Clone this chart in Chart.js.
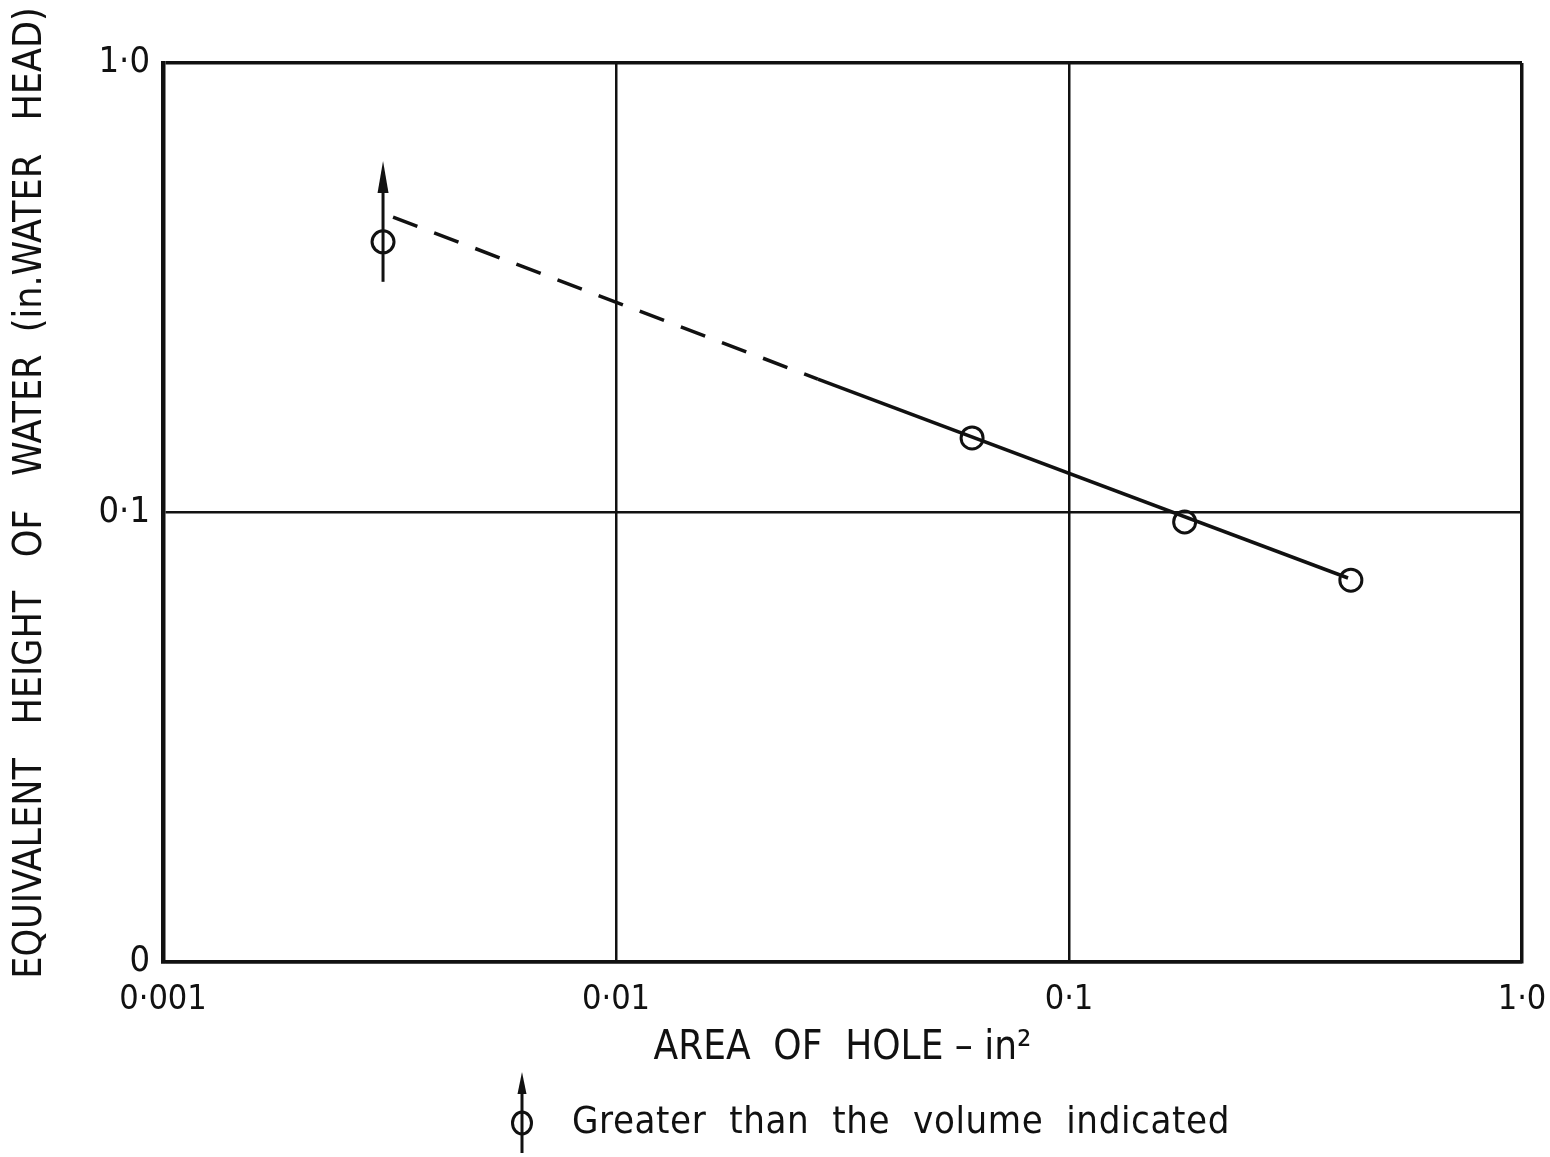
<!DOCTYPE html>
<html>
<head>
<meta charset="utf-8">
<script src="https://cdn.jsdelivr.net/npm/chart.js@4.4.1/dist/chart.umd.min.js"></script>
<style>
    html, body { margin: 0; padding: 0; background: #fff; }
    #wrap { width: 1550px; height: 1157px; position: relative; }
</style>
</head>
<body>
<div id="wrap"><canvas id="holeChart"></canvas></div>
<script>
// measured points (area of hole in^2, equivalent head in. water)
const areaHole = [0.00306, 0.0611, 0.180, 0.419];
const waterHead = [0.40, 0.1465, 0.0953, 0.0707];

// fitted line: dashed (extrapolated) part and solid part
const dashedX = [0.00322, 0.0279];
const dashedY = [0.454, 0.198];
const solidX = [0.0279, 0.413];
const solidY = [0.198, 0.0715];

// "greater than" arrow on first point
const arrowX = 0.00306;
const arrowFrom = 0.326;
const arrowTo = 0.605;

const xTickValues = [0.001, 0.01, 0.1, 1];
const xTickLabels = ['0·001', '0·01', '0·1', '1·0'];
const yTickValues = [0.01, 0.1, 1];
const yTickLabels = ['0', '0·1', '1·0'];

const xTitle = 'AREA  OF  HOLE – in²';
const yTitle = 'EQUIVALENT   HEIGHT   OF   WATER  (in.WATER   HEAD)';
const legendText = 'Greater  than  the  volume  indicated';

const ink = '#111';
const font = '"DejaVu Sans Condensed", "Liberation Sans Narrow", "Liberation Sans", sans-serif';

function toPoints(xs, ys) {
    return xs.map((x, i) => ({ x, y: ys[i] }));
}

function drawArrow(ctx, x, yBottom, yTip, head, half) {
    ctx.beginPath();
    ctx.moveTo(x, yBottom);
    ctx.lineTo(x, yTip + head * 0.6);
    ctx.stroke();
    ctx.beginPath();
    ctx.moveTo(x, yTip);
    ctx.lineTo(x - half, yTip + head);
    ctx.lineTo(x + half, yTip + head);
    ctx.closePath();
    ctx.fill();
}

const arrowPlugin = {
    id: 'arrowPlugin',
    afterDatasetsDraw(chart) {
        const { ctx, scales } = chart;
        const x = scales.x.getPixelForValue(arrowX);
        const y0 = scales.y.getPixelForValue(arrowFrom);
        const y1 = scales.y.getPixelForValue(arrowTo);
        ctx.save();
        ctx.strokeStyle = ink;
        ctx.fillStyle = ink;
        ctx.lineWidth = 3;
        drawArrow(ctx, x, y0, y1, 32, 5.5);
        ctx.restore();
    },
};

const extrasPlugin = {
    id: 'extrasPlugin',
    afterDraw(chart) {
        const { ctx } = chart;
        ctx.save();
        ctx.fillStyle = ink;
        ctx.strokeStyle = ink;

        // y axis title
        ctx.save();
        ctx.translate(31, 493);
        ctx.rotate(-Math.PI / 2);
        ctx.font = `39px ${font}`;
        ctx.textAlign = 'center';
        ctx.textBaseline = 'middle';
        ctx.fillText(yTitle, 0, 0);
        ctx.restore();

        // legend symbol + text
        const lx = 522;
        const ly = 1123;
        ctx.lineWidth = 3;
        drawArrow(ctx, lx, 1153, 1072, 22, 4.5);
        ctx.beginPath();
        ctx.ellipse(lx, ly, 9.5, 11, 0, 0, Math.PI * 2);
        ctx.stroke();
        ctx.font = `38px ${font}`;
        ctx.letterSpacing = '0.6px';
        ctx.textAlign = 'left';
        ctx.textBaseline = 'middle';
        ctx.fillText(legendText, 572, ly);
        ctx.restore();
    },
};

new Chart(document.getElementById('holeChart'), {
    type: 'scatter',
    data: {
        datasets: [
            {
                label: 'dashed',
                data: toPoints(dashedX, dashedY),
                showLine: true,
                borderColor: ink,
                borderWidth: 3.5,
                borderDash: [26, 18],
                pointRadius: 0,
            },
            {
                label: 'solid',
                data: toPoints(solidX, solidY),
                showLine: true,
                borderColor: ink,
                borderWidth: 3.5,
                pointRadius: 0,
            },
            {
                label: 'measured',
                data: toPoints(areaHole, waterHead),
                showLine: false,
                pointStyle: 'circle',
                pointRadius: 11,
                borderColor: ink,
                borderWidth: 3,
                backgroundColor: 'rgba(0,0,0,0)',
            },
        ],
    },
    options: {
        responsive: true,
        maintainAspectRatio: false,
        animation: false,
        layout: {
            padding: { top: 63, right: 28, bottom: 82, left: 0 },
        },
        scales: {
            x: {
                type: 'logarithmic',
                min: 0.001,
                max: 1,
                afterBuildTicks(scale) {
                    scale.ticks = xTickValues.map((v) => ({ value: v }));
                },
                afterFit(scale) {
                    scale.height = 113;
                    scale.paddingLeft = 0;
                    scale.paddingRight = 0;
                },
                ticks: {
                    autoSkip: false,
                    maxRotation: 0,
                    padding: 18,
                    color: ink,
                    font: { family: font, size: 34 },
                    callback(value, index) {
                        return xTickLabels[index];
                    },
                },
                grid: {
                    color: ink,
                    lineWidth: (c) => (c.tick && c.tick.value === 1 ? 3.5 : 2.5),
                    drawTicks: false,
                },
                border: { display: true, color: ink, width: 3.5 },
                title: {
                    display: true,
                    text: xTitle,
                    color: ink,
                    font: { family: font, size: 40 },
                    padding: { top: 0, bottom: 2 },
                },
            },
            y: {
                type: 'logarithmic',
                min: 0.01,
                max: 1,
                afterBuildTicks(scale) {
                    scale.ticks = yTickValues.map((v) => ({ value: v }));
                },
                afterFit(scale) {
                    scale.width = 163;
                    scale.paddingTop = 0;
                    scale.paddingBottom = 0;
                },
                ticks: {
                    autoSkip: false,
                    padding: 13,
                    color: ink,
                    font: { family: font, size: 36 },
                    callback(value, index) {
                        return yTickLabels[index];
                    },
                },
                grid: {
                    color: ink,
                    lineWidth: (c) => (c.tick && c.tick.value === 1 ? 3.5 : 2.5),
                    drawTicks: false,
                },
                border: { display: true, color: ink, width: 4.5 },
            },
        },
        plugins: {
            legend: { display: false },
            tooltip: { enabled: false },
        },
    },
    plugins: [arrowPlugin, extrasPlugin],
});
</script>
</body>
</html>
